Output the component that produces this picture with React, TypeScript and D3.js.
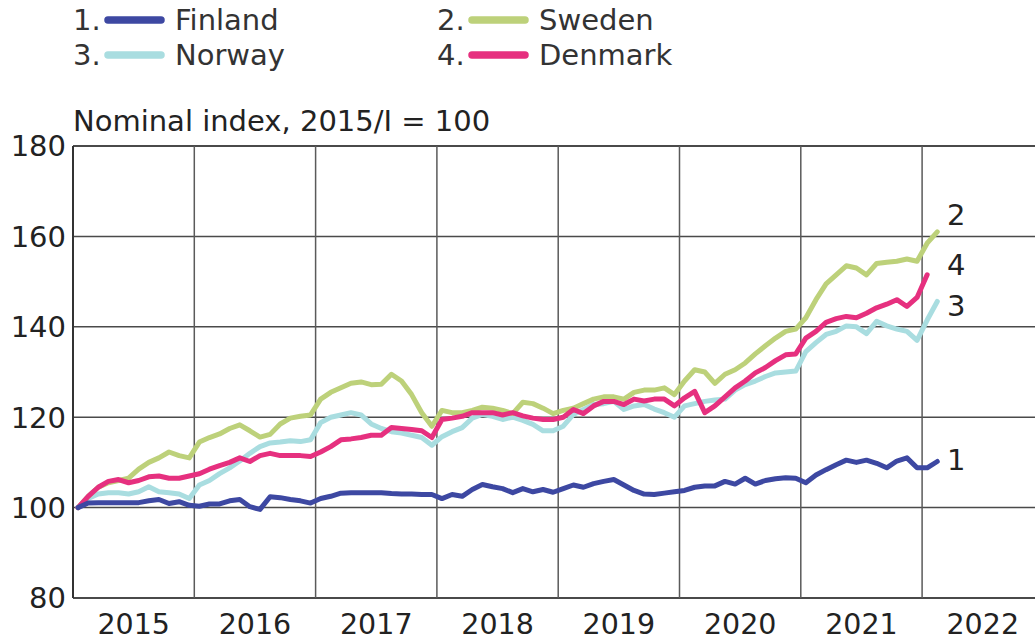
import React, { useEffect, useRef } from 'react';
import * as d3 from 'd3';

// monthly index values, Jan 2015 onward (2015/I = 100)
const startYear = 2015;
const years = [2015, 2016, 2017, 2018, 2019, 2020, 2021, 2022];
const yTicks = [80, 100, 120, 140, 160, 180];

const finland = [
  100, 101, 101.1, 101.1, 101.1, 101.1, 101.1, 101.5, 101.8, 100.9, 101.3, 100.5,
  100.3, 100.8, 100.8, 101.5, 101.8, 100.2, 99.6, 102.4, 102.2, 101.8, 101.5, 101,
  102, 102.5, 103.2, 103.3, 103.3, 103.3, 103.3, 103.1, 103, 103, 102.9, 102.9,
  102, 102.9, 102.5, 104, 105.1, 104.6, 104.2, 103.3, 104.2, 103.5, 104, 103.4,
  104.2, 105, 104.5, 105.3, 105.8, 106.2, 105, 103.8, 103, 102.9, 103.2, 103.5,
  103.8, 104.5, 104.8, 104.8, 105.8, 105.2, 106.5, 105.2, 106, 106.4, 106.6, 106.5,
  105.5, 107.2, 108.4, 109.5, 110.5, 110, 110.5, 109.8, 108.8, 110.3, 111, 108.8,
  108.8, 110.2
];

const sweden = [
  100, 102.5, 104.5, 105.5, 106, 106.5, 108.5, 110, 111, 112.3, 111.5, 111,
  114.5, 115.5, 116.3, 117.5, 118.3, 117, 115.6, 116.2, 118.5, 119.8, 120.2, 120.5,
  124, 125.5, 126.5, 127.5, 127.8, 127.2, 127.3, 129.5, 128, 125, 121, 118,
  121.5, 121, 121, 121.5, 122.2, 122, 121.5, 120.8, 123.3, 123, 122, 120.8,
  121.5, 122, 123, 124, 124.5, 124.5, 124, 125.5, 126, 126, 126.5, 125,
  128, 130.5, 130, 127.5, 129.5, 130.5, 132, 134, 135.8, 137.5, 139, 139.5,
  142, 146, 149.5, 151.5, 153.5, 153, 151.5, 154, 154.3, 154.5, 155, 154.5,
  158.5, 161
];

const norway = [
  100, 102, 103, 103.3, 103.3, 103, 103.5, 104.6, 103.5, 103.3, 103, 102,
  105, 106, 107.5, 108.8, 110.3, 112, 113.5, 114.3, 114.5, 114.8, 114.6, 115,
  118.8, 120, 120.5, 121, 120.5, 118.5, 117.5, 116.8, 116.5, 116, 115.5, 113.8,
  115.7, 116.8, 117.7, 119.8, 120.6, 120.2, 119.5, 120, 119.3, 118.4, 117, 117,
  118, 120.6, 121.7, 122.8, 123, 123.5, 121.7, 122.5, 122.8, 121.8, 121, 120,
  122.5, 123, 123.5, 123.8, 124, 126, 127.2, 128, 129, 129.8, 130, 130.2,
  134.5, 136.5, 138.3, 139, 140.2, 140, 138.5, 141.2, 140.2, 139.5, 139, 137,
  141.5, 145.6
];

const denmark = [
  100, 102.5, 104.5, 105.8, 106.2, 105.5, 106, 106.8, 107, 106.5, 106.5, 107,
  107.5, 108.5, 109.3, 110, 111, 110.2, 111.5, 112, 111.5, 111.5, 111.5, 111.3,
  112.3, 113.5, 115, 115.2, 115.5, 116, 116, 117.7, 117.5, 117.3, 117, 115.5,
  119.5, 119.8, 120.2, 121, 121, 121, 120.5, 121, 120.3, 119.8, 119.5, 119.5,
  120, 121.7, 120.8, 122.5, 123.5, 123.5, 122.8, 124, 123.6, 124, 124, 122.5,
  124.3, 125.7, 121, 122.5, 124.5, 126.5, 128, 129.8, 131, 132.5, 133.8, 134,
  137.5, 139, 141, 141.8, 142.3, 142, 143, 144.2, 145, 146, 144.5, 146.5,
  151.5
];

const seriesNames = ['Finland', 'Sweden', 'Norway', 'Denmark'];
const seriesNumbers = ['1', '2', '3', '4'];
const seriesColors = ['#3d48a2', '#bdd17a', '#a9dde0', '#e6307f'];
const seriesValues = [finland, sweden, norway, denmark];
const drawOrder = [2, 1, 3, 0];

const FONT = '"DejaVu Sans", sans-serif';
const FS = 29;

export default function App() {
  const svgRef = useRef<SVGSVGElement>(null);

  useEffect(() => {
    const svg = d3.select(svgRef.current);
    svg.selectAll('*').remove();

    const width = 1035;
    const height = 641;
    const left = 73;
    const yearW = 121.3;

    const x = d3.scaleLinear()
      .domain([startYear, startYear + 8])
      .range([left, left + 8 * yearW]);
    const y = d3.scaleLinear().domain([80, 180]).range([598, 146]);

    svg.attr('width', width).attr('height', height);
    svg.append('rect').attr('width', width).attr('height', height).attr('fill', '#fff');

    const grid = svg.append('g');
    // horizontal grid
    grid.selectAll('line.h')
      .data(yTicks)
      .join('line')
      .attr('x1', left)
      .attr('x2', width)
      .attr('y1', d => y(d))
      .attr('y2', d => y(d))
      .attr('stroke', '#4a4a4a')
      .attr('stroke-width', d => (d === 80 || d === 180 ? 2 : 1.5));
    // vertical grid at year starts
    grid.selectAll('line.v')
      .data(years.slice(1))
      .join('line')
      .attr('x1', d => x(d))
      .attr('x2', d => x(d))
      .attr('y1', y(180))
      .attr('y2', y(80))
      .attr('stroke', '#5a5a5a')
      .attr('stroke-width', 1.5);
    // left axis line
    grid.append('line')
      .attr('x1', left).attr('x2', left)
      .attr('y1', y(180)).attr('y2', y(80))
      .attr('stroke', '#333').attr('stroke-width', 2);

    // y labels
    svg.append('g')
      .selectAll('text')
      .data(yTicks)
      .join('text')
      .attr('x', 66)
      .attr('y', d => y(d))
      .attr('dy', '0.36em')
      .attr('text-anchor', 'end')
      .attr('font-family', FONT)
      .attr('font-size', FS)
      .attr('fill', '#222')
      .text(d => d);

    // x labels
    svg.append('g')
      .selectAll('text')
      .data(years)
      .join('text')
      .attr('x', d => x(d + 0.5))
      .attr('y', 634)
      .attr('text-anchor', 'middle')
      .attr('font-family', FONT)
      .attr('font-size', 28.5)
      .attr('fill', '#222')
      .text(d => d);

    // axis title
    svg.append('text')
      .attr('x', left)
      .attr('y', 131)
      .attr('font-family', FONT)
      .attr('font-size', FS)
      .attr('fill', '#222')
      .text('Nominal index, 2015/I = 100');

    // lines
    const line = d3.line<number>()
      .x((_, i) => x(startYear + (i + 0.5) / 12))
      .y(d => y(d))
      .curve(d3.curveLinear);

    const lines = svg.append('g');
    drawOrder.forEach(k => {
      lines.append('path')
        .datum(seriesValues[k])
        .attr('d', line)
        .attr('fill', 'none')
        .attr('stroke', seriesColors[k])
        .attr('stroke-width', 5)
        .attr('stroke-linejoin', 'round')
        .attr('stroke-linecap', 'round');
    });

    // end labels (baseline offsets from each series' last point)
    const endOffsets = [8.5, -7, 14.5, 0];
    svg.append('g')
      .selectAll('text')
      .data(seriesValues.map((v, k) => ({ v, k })))
      .join('text')
      .attr('x', 947)
      .attr('y', d => y(d.v[d.v.length - 1]) + endOffsets[d.k])
      .attr('font-family', FONT)
      .attr('font-size', FS)
      .attr('fill', '#222')
      .text(d => seriesNumbers[d.k]);

    // legend
    const legendX = [73, 437];
    const legendY = [20, 55];
    const legend = svg.append('g');
    seriesNames.forEach((name, k) => {
      const col = k % 2;
      const row = Math.floor(k / 2);
      const g = legend.append('g')
        .attr('transform', `translate(${legendX[col]},${legendY[row]})`);
      g.append('text')
        .attr('x', 0)
        .attr('dy', '0.36em')
        .attr('font-family', FONT)
        .attr('font-size', FS)
        .attr('fill', '#333')
        .text(`${seriesNumbers[k]}.`);
      g.append('line')
        .attr('x1', 35).attr('x2', 88)
        .attr('y1', 0).attr('y2', 0)
        .attr('stroke', seriesColors[k])
        .attr('stroke-width', 7.5)
        .attr('stroke-linecap', 'round');
      g.append('text')
        .attr('x', 102)
        .attr('dy', '0.36em')
        .attr('font-family', FONT)
        .attr('font-size', FS)
        .attr('fill', '#333')
        .text(name);
    });
  }, []);

  return (
    <svg ref={svgRef} style={{ position: 'absolute', left: 0, top: 0, display: 'block' }} />
  );
}
